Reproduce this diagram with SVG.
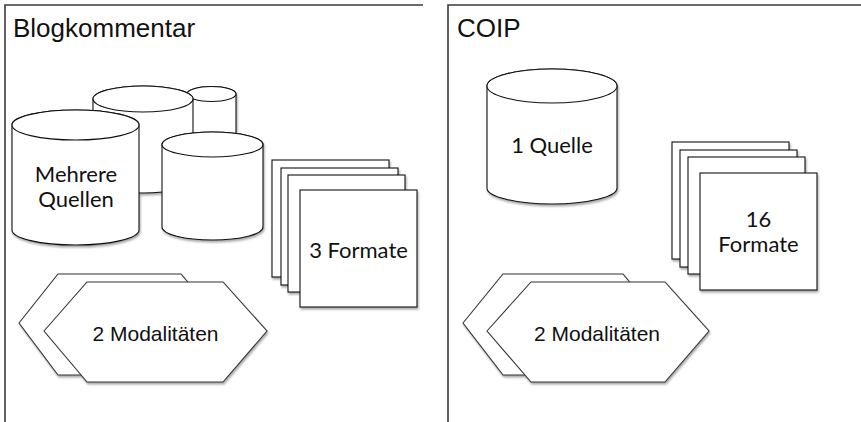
<svg xmlns="http://www.w3.org/2000/svg" width="861" height="422" viewBox="0 0 861 422">
  <style>
    .frame { fill: none; stroke: #3a3a3a; stroke-width: 1.6; }
    .title { font-family: "Liberation Sans", Arial, sans-serif; font-size: 26px; fill: #111; }
    .shape { fill: #fff; stroke: #111; stroke-width: 1.1; }
    .hex { fill: #fff; stroke: #333; stroke-width: 1.1; }
    .lbl { font-family: Lato, "Liberation Sans", sans-serif; font-size: 22px; fill: #111; text-anchor: middle; }
    .hlbl { font-family: "Liberation Sans", Arial, sans-serif; font-size: 21px; fill: #111; text-anchor: middle; }
  </style>
  <defs>
    <filter id="shadow" x="-10%" y="-10%" width="130%" height="130%">
      <feDropShadow dx="1" dy="2" stdDeviation="1.2" flood-color="#000" flood-opacity="0.35"/>
    </filter>
  </defs>

  <rect width="861" height="422" fill="#fff"/>

  <!-- panel frames -->
  <g id="panel-left">
    <polyline class="frame" points="423,5 5,5 5,422"/>
    <text class="title" x="13" y="37">Blogkommentar</text>
  </g>
  <g id="panel-right">
    <polyline class="frame" points="861,5 448,5 448,422"/>
    <text class="title" x="457" y="37">COIP</text>
  </g>

  <!-- left panel: several sources -->
  <g id="sources" filter="url(#shadow)">
    <!-- small cylinder, far back -->
    <path class="shape" d="M187,94 V150 A24.5,7.5 0 0 0 236,150 V94 A24.5,7.5 0 0 0 187,94 Z"/>
    <ellipse class="shape" cx="211.5" cy="94" rx="24.5" ry="7.5"/>
    <!-- middle cylinder -->
    <path class="shape" d="M93,99 V180 A50,13 0 0 0 193,180 V99 A50,13 0 0 0 93,99 Z"/>
    <ellipse class="shape" cx="143" cy="99" rx="50" ry="13"/>
    <!-- front cylinder with label -->
    <path class="shape" d="M12,125 V230 A63.5,15 0 0 0 139,230 V125 A63.5,15 0 0 0 12,125 Z"/>
    <ellipse class="shape" cx="75.5" cy="125" rx="63.5" ry="15"/>
    <!-- right cylinder -->
    <path class="shape" d="M162,144.5 V227 A50.5,13 0 0 0 263,227 V144.5 A50.5,12.5 0 0 0 162,144.5 Z"/>
    <ellipse class="shape" cx="212.5" cy="144.5" rx="50.5" ry="12.5"/>
  </g>
  <g id="sources-label">
    <text class="lbl" x="76" y="182">Mehrere</text>
    <text class="lbl" x="76" y="207">Quellen</text>
  </g>

  <!-- left panel: formats stack -->
  <g id="formats-left" filter="url(#shadow)">
    <rect class="shape" x="272" y="160" width="117" height="117"/>
    <rect class="shape" x="281" y="168" width="117" height="117"/>
    <rect class="shape" x="288" y="175" width="117" height="117"/>
    <rect class="shape" x="300" y="190" width="117" height="117"/>
  </g>
  <text class="lbl" x="358.5" y="258">3 Formate</text>

  <!-- left panel: modalities -->
  <g id="modalities-left" filter="url(#shadow)">
    <polygon class="hex" points="19,323 58,274 181,274 222,323 181,375 58,375"/>
    <polygon class="hex" points="44,331 87,282 223,282 267,331 223,382 87,382"/>
  </g>
  <text class="hlbl" x="155.5" y="341">2 Modalitäten</text>

  <!-- right panel: single source -->
  <g id="source-single" filter="url(#shadow)">
    <path class="shape" d="M487,86 V188 A65,16 0 0 0 617,188 V86 A65,17 0 0 0 487,86 Z"/>
    <ellipse class="shape" cx="552" cy="86" rx="65" ry="17"/>
  </g>
  <text class="lbl" x="552" y="153">1 Quelle</text>

  <!-- right panel: formats stack -->
  <g id="formats-right" filter="url(#shadow)">
    <rect class="shape" x="672" y="142" width="117" height="117"/>
    <rect class="shape" x="680" y="150" width="117" height="117"/>
    <rect class="shape" x="688" y="157" width="117" height="117"/>
    <rect class="shape" x="700" y="173" width="117" height="117"/>
  </g>
  <g id="formats-right-label">
    <text class="lbl" x="758.5" y="227">16</text>
    <text class="lbl" x="758.5" y="252">Formate</text>
  </g>

  <!-- right panel: modalities -->
  <g id="modalities-right" filter="url(#shadow)">
    <polygon class="hex" points="463,323 503,274 623,274 663,323 623,375 503,375"/>
    <polygon class="hex" points="487,331 531,282 665,282 709,331 665,382 531,382"/>
  </g>
  <text class="hlbl" x="597" y="341">2 Modalitäten</text>

  <!-- no connectors in this figure -->
  <g id="connectors"/>
</svg>
